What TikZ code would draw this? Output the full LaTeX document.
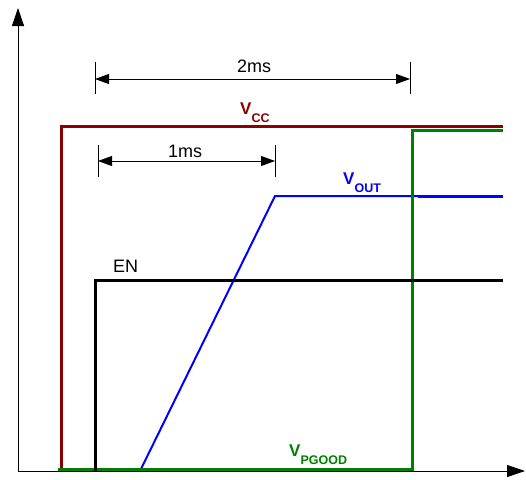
\documentclass[tikz,border=0pt]{standalone}
\usepackage{fontspec}
\setmainfont{Liberation Sans}
\usetikzlibrary{arrows.meta}
\definecolor{vccred}{RGB}{139,0,0}
\definecolor{pgreen}{RGB}{0,128,0}
\definecolor{vblue}{RGB}{0,0,255}
\newcommand{\sigl}[2]{{\bfseries\fontsize{17}{17}\selectfont #1\raisebox{-8pt}{\fontsize{12.5}{12.5}\selectfont #2}}}
\begin{document}
\begin{tikzpicture}[x=1pt,y=-1pt,
  axis/.style={line width=0.8pt,black,-{Triangle[length=18pt,width=12pt]}},
  dimline/.style={line width=0.8pt,black,{Triangle[length=14pt,width=10pt]}-{Triangle[length=14pt,width=10pt]}},
  dimtick/.style={line width=0.8pt,black},
  sig/.style={line width=3pt,line join=miter,line cap=butt},
  lbl/.style={inner sep=0pt,font=\fontsize{18}{18}\selectfont}]
\useasboundingbox (0,0) rectangle (526,479);
% axes
\coordinate (O) at (18,471);
\coordinate (ytop) at (18,8);
\coordinate (xend) at (525,471);
\draw[axis] (O) -- (ytop);
\draw[axis] (O) -- (xend);
% VCC
\coordinate (r0) at (61,471);
\coordinate (r1) at (61,126);
\coordinate (r2) at (503,126);
\draw[sig,vccred] (r0) -- (r1) -- (r2);
% VOUT
\coordinate (b0) at (140,471);
\coordinate (b1) at (275,196);
\coordinate (b2) at (418,196);
\coordinate (b3) at (503,196);
\draw[line width=2pt,vblue,line join=miter] (b0) -- (b1) -- (b2);
\draw[line width=3pt,vblue] (b2) -- (b3);
% PGOOD
\coordinate (g0) at (58,469.5);
\coordinate (g1) at (412,469.5);
\coordinate (g2) at (412,130);
\coordinate (g3) at (503,130);
\draw[sig,pgreen] (g0) -- (g1) -- (g2) -- (g3);
% EN
\coordinate (e0) at (95,471);
\coordinate (e1) at (95,280);
\coordinate (e2) at (503,280);
\draw[sig,black] (e0) -- (e1) -- (e2);
% 2ms dimension
\coordinate (t1a) at (95,62);
\coordinate (t1b) at (95,94);
\coordinate (t2a) at (410,62);
\coordinate (t2b) at (410,94);
\coordinate (d1) at (95,79);
\coordinate (d2) at (410,79);
\draw[dimtick] (t1a) -- (t1b);
\draw[dimtick] (t2a) -- (t2b);
\draw[dimline] (d1) -- (d2);
\node[lbl,anchor=base] (l2ms) at (254,72.5) {2ms};
% 1ms dimension
\coordinate (s1a) at (98,145);
\coordinate (s1b) at (98,177);
\coordinate (s2a) at (275,145);
\coordinate (s2b) at (275,177);
\coordinate (f1) at (98,161);
\coordinate (f2) at (275,161);
\draw[dimtick] (s1a) -- (s1b);
\draw[dimtick] (s2a) -- (s2b);
\draw[dimline] (f1) -- (f2);
\node[lbl,anchor=base] (l1ms) at (185,157.5) {1ms};
% labels
\node[inner sep=0pt,anchor=base west,text=vccred] (lvcc) at (240,114) {\sigl{V}{CC}};
\node[inner sep=0pt,anchor=base west,text=vblue] (lvout) at (343,184) {\sigl{V}{OUT}};
\node[inner sep=0pt,anchor=base west,text=pgreen] (lpg) at (289,456) {\sigl{V}{PGOOD}};
\node[lbl,anchor=base west] (len) at (113,272) {EN};
\end{tikzpicture}
\end{document}
